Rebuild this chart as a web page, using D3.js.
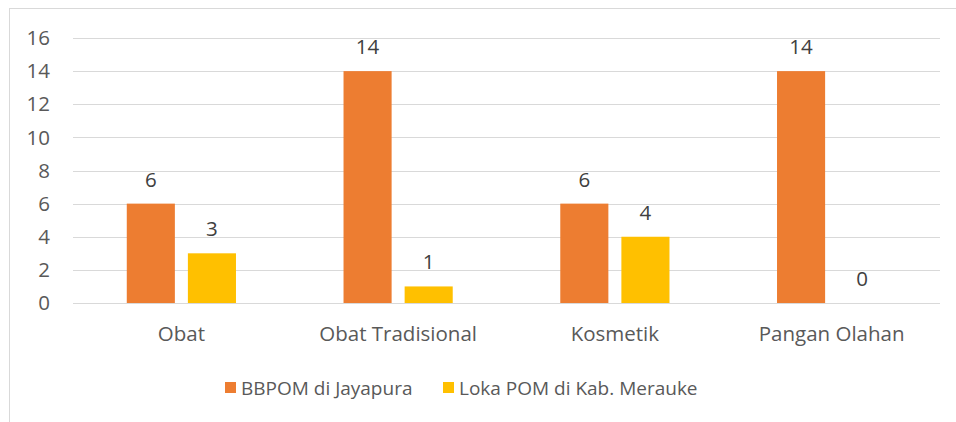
<html lang="en">
<head>
<meta charset="UTF-8">
<script src="https://d3js.org/d3.v7.min.js"></script>
<style>
  body { margin: 0; background: #fff; font-family: "Open Sans", sans-serif; }
</style>
</head>
<body>
<div id="chart"></div>
<script>
const categories = ["Obat", "Obat Tradisional", "Kosmetik", "Pangan Olahan"];
const seriesNames = ["BBPOM di Jayapura", "Loka POM di Kab. Merauke"];
const bbpom = [6, 14, 6, 14];
const loka = [3, 1, 4, 0];
const yTicks = [0, 2, 4, 6, 8, 10, 12, 14, 16];
const colors = ["#ED7D31", "#FFC000"];

const fs = 20.5;
const legendFs = 19;

const svg = d3.select("#chart").append("svg")
  .attr("width", 956)
  .attr("height", 422);

// chart border
svg.append("rect")
  .attr("x", 9.5).attr("y", 8.5)
  .attr("width", 960).attr("height", 430)
  .attr("fill", "none")
  .attr("stroke", "#d9d9d9");

const x = d3.scaleBand().domain(categories).range([73, 940]);
const y = d3.scaleLinear().domain([0, 16]).range([303, 38]);
const inner = d3.scaleBand().domain([0, 1]).range([0, x.bandwidth()]).paddingInner(0.213).paddingOuter(0.88);

// gridlines
svg.append("g").selectAll("line").data(yTicks).enter().append("line")
  .attr("x1", 73).attr("x2", 940)
  .attr("y1", d => Math.round(y(d)) + 0.5).attr("y2", d => Math.round(y(d)) + 0.5)
  .attr("stroke", "#d9d9d9").attr("stroke-width", 1);

// y tick labels
svg.append("g").selectAll("text").data(yTicks).enter().append("text")
  .attr("x", 50).attr("y", d => y(d))
  .attr("dy", "0.35em")
  .attr("text-anchor", "end")
  .attr("font-size", fs)
  .attr("fill", "#595959")
  .text(d => d);

const series = [bbpom, loka];
series.forEach(function (vals, s) {
  const g = svg.append("g");
  g.selectAll("rect").data(vals).enter().append("rect")
    .attr("x", (d, i) => x(categories[i]) + inner(s))
    .attr("y", d => y(d))
    .attr("width", inner.bandwidth())
    .attr("height", d => y(0) - y(d))
    .attr("fill", colors[s]);
  g.selectAll("text").data(vals).enter().append("text")
    .attr("x", (d, i) => x(categories[i]) + inner(s) + inner.bandwidth() / 2)
    .attr("y", d => y(d) - 17)
    .attr("text-anchor", "middle")
    .attr("font-size", fs)
    .attr("fill", "#404040")
    .text(d => d);
});

// category labels
svg.append("g").selectAll("text").data(categories).enter().append("text")
  .attr("x", d => x(d) + x.bandwidth() / 2)
  .attr("y", 341)
  .attr("text-anchor", "middle")
  .attr("font-size", fs)
  .attr("fill", "#595959")
  .text(d => d);

// legend
const legendX = [225, 443];
const legend = svg.append("g");
seriesNames.forEach(function (name, i) {
  legend.append("rect")
    .attr("x", legendX[i]).attr("y", 382)
    .attr("width", 11).attr("height", 11)
    .attr("fill", colors[i]);
  legend.append("text")
    .attr("x", legendX[i] + 16).attr("y", 388)
    .attr("dy", "0.35em")
    .attr("font-size", legendFs)
    .attr("fill", "#595959")
    .text(name);
});
</script>
</body>
</html>
